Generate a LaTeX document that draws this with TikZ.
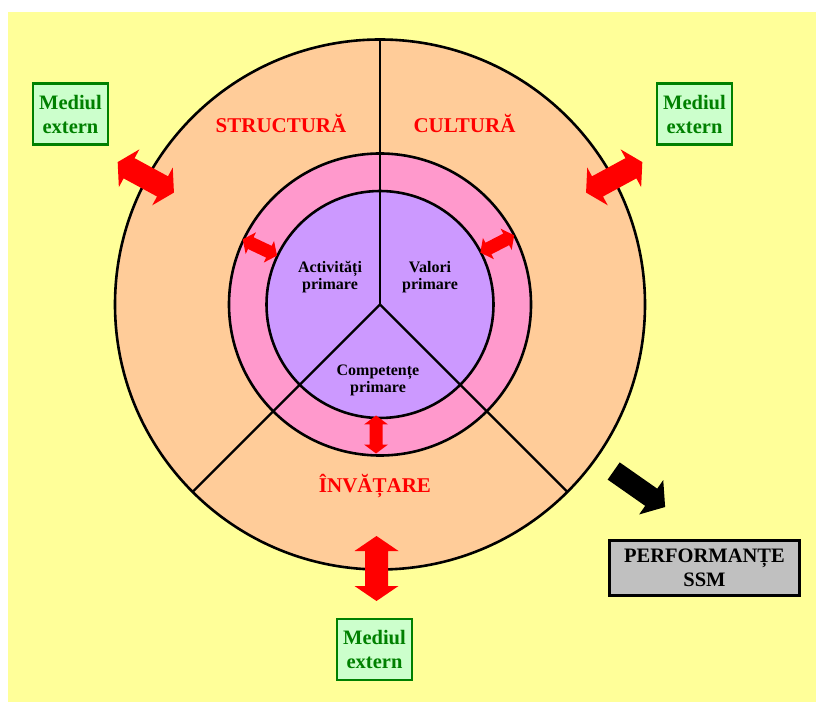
\documentclass[tikz,border=0pt]{standalone}
\usepackage{fontspec}
\setmainfont{Liberation Serif}
\definecolor{bgyellow}{HTML}{FFFF99}
\definecolor{outerring}{HTML}{FFCC99}
\definecolor{midring}{HTML}{FF99CC}
\definecolor{innerdisk}{HTML}{CC99FF}
\definecolor{mgreen}{HTML}{008000}
\definecolor{mlight}{HTML}{CCFFCC}
\definecolor{pgray}{HTML}{C0C0C0}
\tikzset{
  % block arrow with a head at both ends: half length, half head width, half shaft width, head length
  pics/dblarrow/.style n args={4}{code={
    \fill (-#1,0) -- (-#1+#4,#2) -- (-#1+#4,#3) -- (#1-#4,#3) -- (#1-#4,#2) -- (#1,0)
      -- (#1-#4,-#2) -- (#1-#4,-#3) -- (-#1+#4,-#3) -- (-#1+#4,-#2) -- cycle;
  }},
  % block arrow with a single head
  pics/onearrow/.style n args={4}{code={
    \fill (-#1,-#3) -- (#1-#4,-#3) -- (#1-#4,-#2) -- (#1,0) -- (#1-#4,#2) -- (#1-#4,#3)
      -- (-#1,#3) -- cycle;
  }},
}
\begin{document}
\begin{tikzpicture}[x=1pt,y=1pt,
  ring/.style={draw=black, line width=2.6pt},
  spoke/.style={draw=black, line width=2.2pt},
  sector/.style={font=\bfseries\fontsize{21}{24}\selectfont, text=red, inner sep=0pt},
  core/.style={font=\bfseries\fontsize{16}{17.5}\selectfont, text=black, align=center, inner sep=0pt},
  extbox/.style={draw=mgreen, line width=2.8pt, fill=mlight, text=mgreen,
    font=\bfseries\fontsize{20.5}{24}\selectfont, align=center,
    minimum width=75pt, minimum height=61pt, inner sep=0pt},
  perfbox/.style={draw=black, line width=3pt, fill=pgray, text=black,
    font=\bfseries\fontsize{20.5}{23.5}\selectfont, align=center,
    minimum width=190pt, minimum height=55pt, inner sep=0pt},
]
\fill[white] (0,0) rectangle (816,702);
\useasboundingbox (0,0) rectangle (816,702);
\fill[bgyellow] (8,0) rectangle (816,690);

% concentric rings
\coordinate (c) at (380,397.5);
\filldraw[fill=outerring, ring] (c) circle (265);
\filldraw[fill=midring, ring] (c) circle (151);
\filldraw[fill=innerdisk, ring] (c) circle (113.5);

% three spokes dividing the sectors
\coordinate (s1) at ([shift={(90:265)}]c);
\coordinate (s2) at ([shift={(225:265)}]c);
\coordinate (s3) at ([shift={(315:265)}]c);
\draw[spoke] (c) -- (s1);
\draw[spoke] (c) -- (s2);
\draw[spoke] (c) -- (s3);

% sector titles
\node[sector, anchor=base] (structura) at (281,569) {STRUCTURĂ};
\node[sector, anchor=base] (cultura) at (464.5,569) {CULTURĂ};
\node[sector, anchor=base] (invatare) at (375,209.5) {ÎNVĂȚARE};

% core labels
\node[core] (activ) at (330,425) {Activități\\primare};
\node[core] (valori) at (430,425) {Valori\\primare};
\node[core] (compet) at (378,321.5) {Competențe\\primare};

% environment boxes and result box
\node[extbox] (extl) at (70.5,588) {Mediul\\extern};
\node[extbox] (extr) at (694.5,588) {Mediul\\extern};
\node[extbox] (extb) at (374.5,52.5) {Mediul\\extern};
\node[perfbox] (perf) at (704.5,134) {PERFORMANȚE\\SSM};

% exchanges with the environment
\pic[fill=red, rotate=151.5] at ([shift={(151.5:266.5)}]c) {dblarrow={32}{21.5}{11.5}{13}};
\pic[fill=red, rotate=28.5] at ([shift={(28.5:266.5)}]c) {dblarrow={32}{21.5}{11.5}{13}};
\pic[fill=red, rotate=90] at (376.5,133.5) {dblarrow={32.5}{22}{11.5}{15}};

% exchanges between core and rings
\pic[fill=red, rotate=154.6] at ([shift={(154.6:133)}]c) {dblarrow={19}{12}{6.5}{9}};
\pic[fill=red, rotate=27.3] at ([shift={(27.3:132)}]c) {dblarrow={19}{12}{6.5}{9}};
\pic[fill=red, rotate=90] at (376,267.5) {dblarrow={19}{12}{6.5}{9}};

% output arrow
\pic[fill=black, rotate=-35] at (639.4,213) {onearrow={31.4}{21}{10.5}{17}};
\end{tikzpicture}
\end{document}
